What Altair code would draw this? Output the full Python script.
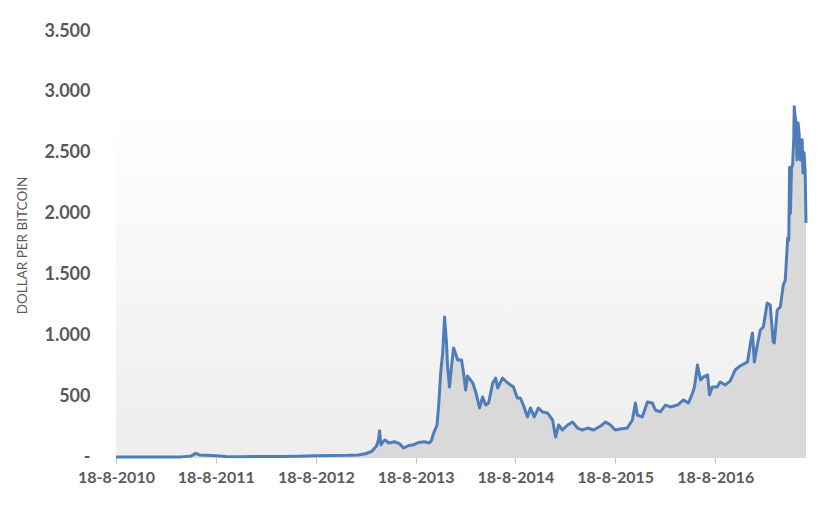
import altair as alt
import pandas as pd

# ---- data ----
dates = [
    "2010-08-18", "2010-10-15", "2010-12-15", "2011-02-10", "2011-04-15", "2011-05-20",
    "2011-06-05", "2011-06-20", "2011-07-15", "2011-08-20", "2011-09-25", "2011-11-15",
    "2011-12-31", "2012-02-15", "2012-04-15", "2012-06-15", "2012-08-15", "2012-10-15",
    "2012-12-15", "2013-01-20", "2013-02-15", "2013-03-10", "2013-03-28", "2013-04-04",
    "2013-04-08", "2013-04-13", "2013-04-20", "2013-04-28", "2013-05-12", "2013-06-01",
    "2013-06-20", "2013-07-05", "2013-07-25", "2013-08-10", "2013-08-30", "2013-09-20",
    "2013-10-05", "2013-10-14", "2013-10-23", "2013-11-04", "2013-11-10", "2013-11-18",
    "2013-11-25", "2013-12-02", "2013-12-09", "2013-12-13", "2013-12-20", "2013-12-27",
    "2014-01-04", "2014-01-19", "2014-02-02", "2014-02-10", "2014-02-17", "2014-02-24",
    "2014-03-15", "2014-03-26", "2014-04-09", "2014-04-20", "2014-05-01", "2014-05-12",
    "2014-05-27", "2014-06-07", "2014-06-14", "2014-07-02", "2014-07-21", "2014-08-11",
    "2014-08-25", "2014-09-05", "2014-09-16", "2014-10-01", "2014-10-12", "2014-10-26",
    "2014-11-10", "2014-11-25", "2014-12-13", "2015-01-01", "2015-01-12", "2015-01-23",
    "2015-02-06", "2015-02-25", "2015-03-15", "2015-04-02", "2015-04-21", "2015-05-09",
    "2015-05-31", "2015-06-26", "2015-07-14", "2015-08-01", "2015-08-18", "2015-09-05",
    "2015-10-01", "2015-10-20", "2015-10-31", "2015-11-07", "2015-11-25", "2015-12-14",
    "2016-01-01", "2016-01-12", "2016-01-30", "2016-02-18", "2016-03-07", "2016-04-02",
    "2016-04-24", "2016-05-12", "2016-05-27", "2016-06-03", "2016-06-14", "2016-06-25",
    "2016-07-06", "2016-07-21", "2016-07-28", "2016-08-07", "2016-08-25", "2016-09-05",
    "2016-09-24", "2016-10-12", "2016-10-30", "2016-11-17", "2016-12-14", "2016-12-25",
    "2017-01-01", "2017-01-08", "2017-01-19", "2017-01-30", "2017-02-10", "2017-02-24",
    "2017-03-07", "2017-03-18", "2017-03-22", "2017-04-02", "2017-04-13", "2017-04-24",
    "2017-05-01", "2017-05-05", "2017-05-10", "2017-05-14", "2017-05-17", "2017-05-20",
    "2017-05-24", "2017-05-28", "2017-06-01", "2017-06-03", "2017-06-07", "2017-06-10",
    "2017-06-13", "2017-06-17", "2017-06-21", "2017-06-25", "2017-06-29", "2017-07-02",
    "2017-07-05", "2017-07-09", "2017-07-13", "2017-07-16",
]
prices = [
    0.07, 0.1, 0.25, 1.0, 1.0, 8,
    30, 17, 14, 11, 5, 2.5,
    4.7, 5, 5, 6.5, 11, 12,
    13.5, 17, 27, 45, 90, 140,
    215, 100, 123, 140, 115, 125,
    110, 74, 95, 100, 120, 125,
    115, 130, 197, 260, 411, 700,
    855, 1150, 937, 740, 575, 740,
    896, 797, 797, 680, 550, 665,
    608, 534, 403, 493, 427, 444,
    608, 649, 567, 649, 608, 575,
    485, 485, 427, 329, 403, 329,
    403, 370, 362, 304, 164, 263,
    222, 263, 288, 238, 222, 238,
    222, 255, 288, 263, 222, 230,
    238, 304, 444, 345, 329, 452,
    444, 386, 370, 427, 411, 427,
    469, 444, 526, 575, 756, 633,
    658, 674, 510, 575, 575, 616,
    592, 625, 715, 748, 781, 937,
    1019, 781, 920, 1044, 1069, 1266,
    1249, 945, 937, 1208, 1233, 1414,
    1450, 1600, 1800, 1780, 2380, 2000,
    2380, 2400, 2600, 2877, 2780, 2745,
    2441, 2745, 2650, 2441, 2500, 2606,
    2334, 2500, 2334, 1923,
]
x_tick_dates = ["2010-08-18", "2011-08-18", "2012-08-18", "2013-08-18",
                "2014-08-18", "2015-08-18", "2016-08-18"]
y_ticks = [0, 500, 1000, 1500, 2000, 2500, 3000, 3500]
y_title = "DOLLAR PER BITCOIN"
band_top = 2893  # top of the shaded plot-area band

df = pd.DataFrame({"date": pd.to_datetime(dates), "price": prices})
bg = pd.DataFrame({
    "start": pd.to_datetime([dates[0]]),
    "end": pd.to_datetime([dates[-1]]),
    "lo": [0],
    "hi": [band_top],
})

tick_values = []
for s in x_tick_dates:
    yy, mm, dd = (int(p) for p in s.split("-"))
    tick_values.append(alt.DateTime(year=yy, month=mm, date=dd))

label_color = "#595959"
xscale = alt.Scale(nice=False)
yscale = alt.Scale(domain=[0, 3500], nice=False)

xaxis = alt.Axis(
    values=tick_values, format="%-d-%-m-%Y", title=None, grid=False,
    labelFont="Lato", labelFontSize=16, labelFontWeight="bold", labelColor=label_color,
    labelPadding=6, tickSize=6, tickColor="#bfbfbf", domainColor="#d9d9d9",
    labelFlush=False, labelOverlap=False,
)
yaxis = alt.Axis(
    values=y_ticks, grid=False, domain=False, ticks=False,
    labelExpr="datum.value == 0 ? '-\u00a0\u00a0\u00a0' : replace(format(datum.value, ','), ',', '.')",
    labelFont="Lato", labelFontSize=18, labelFontWeight="bold", labelColor=label_color,
    labelPadding=26,
    title=y_title, titleFont="Lato", titleFontSize=13.5, titleFontWeight="normal",
    titleColor=label_color, titleAngle=270, titleX=-94, titleY=214,
    titleAlign="center", titleBaseline="middle",
)

gradient = alt.Gradient(
    gradient="linear",
    stops=[alt.GradientStop(color="#ffffff", offset=0),
           alt.GradientStop(color="#ededed", offset=1)],
    x1=0, x2=0, y1=0, y2=1,
)

band = alt.Chart(bg).mark_rect(color=gradient).encode(
    x=alt.X("start:T", scale=xscale, axis=xaxis),
    x2="end:T",
    y=alt.Y("lo:Q", scale=yscale, axis=yaxis),
    y2="hi:Q",
)

area = alt.Chart(df).mark_area(color="#d9d9d9").encode(
    x=alt.X("date:T", scale=xscale, axis=xaxis),
    y=alt.Y("price:Q", scale=yscale, axis=yaxis),
)

line = alt.Chart(df).mark_line(color="#4f7dba", strokeWidth=3, strokeJoin="round").encode(
    x=alt.X("date:T", scale=xscale, axis=xaxis),
    y=alt.Y("price:Q", scale=yscale, axis=yaxis),
)

chart = alt.layer(band, area, line).properties(
    width=690,
    height=426,
    autosize=alt.AutoSizeParams(type="none"),
    padding={"left": 108, "top": 23, "right": 6, "bottom": 40},
    background="white",
).configure_view(stroke=None)

chart.save("out.html", embed_options={"renderer": "svg", "actions": False})
